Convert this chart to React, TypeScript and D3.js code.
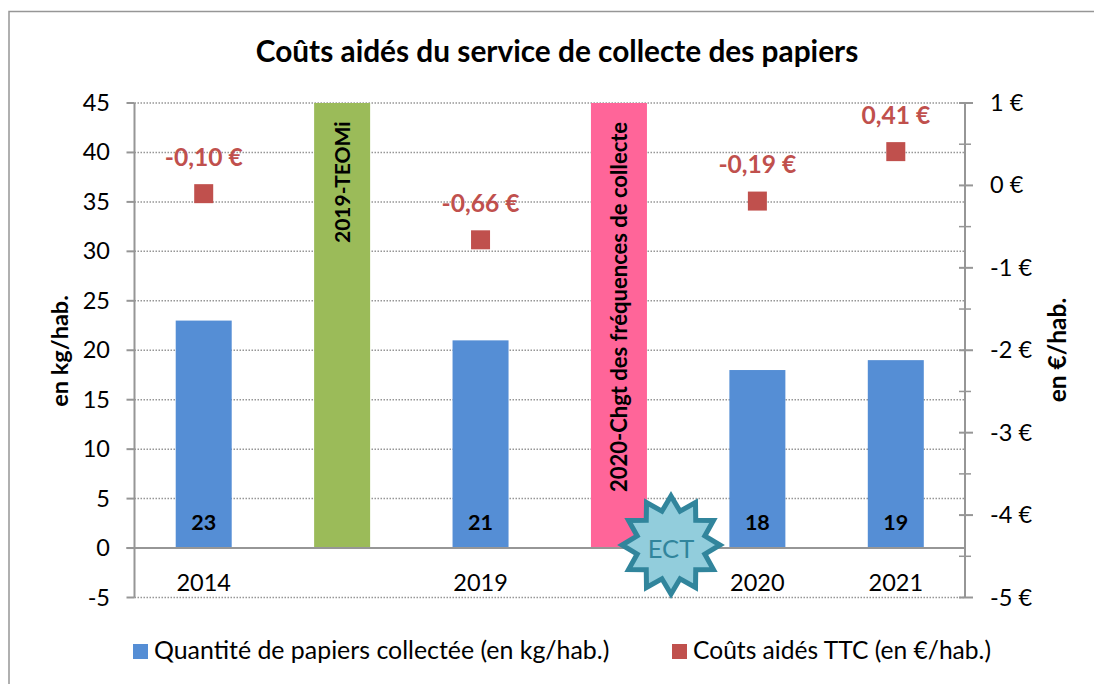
import React from "react";
import * as d3 from "d3";

const title = "Coûts aidés du service de collecte des papiers";
const categories = ["2014", "2019-TEOMi", "2019", "2020-Chgt", "2020", "2021"];
const axisLabels = ["2014", "", "2019", "", "2020", "2021"];
const quantities: (number | null)[] = [23, null, 21, null, 18, 19];
const costs: (number | null)[] = [-0.1, null, -0.66, null, -0.19, 0.41];
const costLabels = ["-0,10 €", "", "-0,66 €", "", "-0,19 €", "0,41 €"];
const markerBars = [
  { category: "2019-TEOMi", label: "2019-TEOMi", color: "#9BBB59" },
  { category: "2020-Chgt", label: "2020-Chgt des fréquences de collecte", color: "#FF6599" },
];
const leftTicks = [45, 40, 35, 30, 25, 20, 15, 10, 5, 0, -5];
const rightTicks = [1, 0, -1, -2, -3, -4, -5];
const rightMinorTicks = [0.5, -0.5, -1.5, -2.5, -3.5, -4.5];
const legendBar = "Quantité de papiers collectée (en kg/hab.)";
const legendCost = "Coûts aidés TTC (en €/hab.)";

const FONT = "Lato, Carlito, sans-serif";
const GREY = "#969696";
const BLUE = "#558ED5";
const RED = "#C0504D";

const L = 134.5, R = 965, T = 103, B = 597.5;
const x = d3.scaleBand<string>().domain(categories).range([L, R]);
const yL = d3.scaleLinear().domain([-5, 45]).range([B, T]);
const yR = d3.scaleLinear().domain([-5, 1]).range([B, T]);
const BW = 56;

function starPath(cx: number, cy: number, outer: number, inner: number, n: number) {
  const pts: [number, number][] = [];
  for (let i = 0; i < n * 2; i++) {
    const r = i % 2 === 0 ? outer : inner;
    const a = (Math.PI * i) / n - Math.PI / 2;
    pts.push([cx + r * Math.cos(a), cy + r * Math.sin(a)]);
  }
  return d3.line()(pts) + "Z";
}

export default function App() {
  const cx = (c: string) => (x(c) as number) + x.bandwidth() / 2;
  return (
    <svg width={1094} height={684} style={{ position: "absolute", left: 0, top: 0, background: "#fff", fontFamily: FONT }}>
      <path d="M9 684V11.5H1094" fill="none" stroke={GREY} strokeWidth={1.5} />
      <text x={557} y={62} textAnchor="middle" fontSize={29.8} fontWeight={700}>{title}</text>

      {leftTicks.filter((t) => t !== 0).map((t) => (
        <line key={t} x1={L} x2={R} y1={yL(t)} y2={yL(t)} stroke={GREY} strokeWidth={1.5} strokeDasharray="1.5 1.5" />
      ))}

      {quantities.map((q, i) => q === null ? null : (
        <rect key={i} x={cx(categories[i]) - BW / 2} width={BW} y={yL(q)} height={yL(0) - yL(q)} fill={BLUE} />
      ))}
      {markerBars.map((m) => (
        <rect key={m.category} x={cx(m.category) - BW / 2} width={BW} y={yL(45)} height={yL(0) - yL(45)} fill={m.color} />
      ))}
      {markerBars.map((m) => (
        <text key={m.label} transform={`translate(${cx(m.category) + 8},${m.category === "2019-TEOMi" ? 243 : 492}) rotate(-90)`} fontSize={m.category === "2019-TEOMi" ? 21 : 22} fontWeight={700}>{m.label}</text>
      ))}

      <line x1={L} x2={L} y1={T} y2={B} stroke={GREY} strokeWidth={2} />
      <line x1={R} x2={R} y1={T} y2={B} stroke={GREY} strokeWidth={2} />
      <line x1={L - 8} x2={R} y1={yL(0)} y2={yL(0)} stroke={GREY} strokeWidth={2} />

      {leftTicks.map((t) => (
        <g key={t}>
          <line x1={L - 8} x2={L} y1={yL(t)} y2={yL(t)} stroke={GREY} strokeWidth={2} />
          <text x={110} y={yL(t) + 8} textAnchor="end" fontSize={23.5}>{t}</text>
        </g>
      ))}
      {rightMinorTicks.map((t) => (
        <line key={t} x1={R - 6} x2={R + 6} y1={yR(t)} y2={yR(t)} stroke={GREY} strokeWidth={1.5} />
      ))}
      {rightTicks.map((t) => (
        <g key={t}>
          <line x1={R - 6} x2={R + 8} y1={yR(t)} y2={yR(t)} stroke={GREY} strokeWidth={2} />
          <text x={990} y={yR(t) + 8} fontSize={23.5}>{`${t} €`}</text>
        </g>
      ))}

      {axisLabels.map((a, i) => a && (
        <text key={a} x={cx(categories[i])} y={591} textAnchor="middle" fontSize={23.5}>{a}</text>
      ))}
      {quantities.map((q, i) => q === null ? null : (
        <text key={i} x={cx(categories[i])} y={530} textAnchor="middle" fontSize={21.5} fontWeight={700}>{q}</text>
      ))}

      {costs.map((c, i) => c === null ? null : (
        <g key={i}>
          <rect x={cx(categories[i]) - 9.5} y={yR(c) - 9.5} width={19} height={19} fill={RED} />
          <text x={cx(categories[i])} y={yR(c) - 28} textAnchor="middle" fontSize={24.6} fontWeight={700} fill={RED}>{costLabels[i]}</text>
        </g>
      ))}

      <text transform="translate(68,351) rotate(-90)" textAnchor="middle" fontSize={23.5} fontWeight={700}>en kg/hab.</text>
      <text transform="translate(1066,350) rotate(-90)" textAnchor="middle" fontSize={24.5} fontWeight={700}>en €/hab.</text>

      <path d={starPath(671, 545, 49, 35, 12)} fill="#92CDDC" stroke="#31859C" strokeWidth={5} />
      <text x={671} y={558} textAnchor="middle" fontSize={25.5} fill="#31859C">ECT</text>

      <rect x={133} y={644} width={15} height={15} fill={BLUE} />
      <text x={154} y={659} fontSize={24.9}>{legendBar}</text>
      <rect x={672} y={644} width={15} height={15} fill={RED} />
      <text x={693} y={659} fontSize={24.6}>{legendCost}</text>
    </svg>
  );
}
